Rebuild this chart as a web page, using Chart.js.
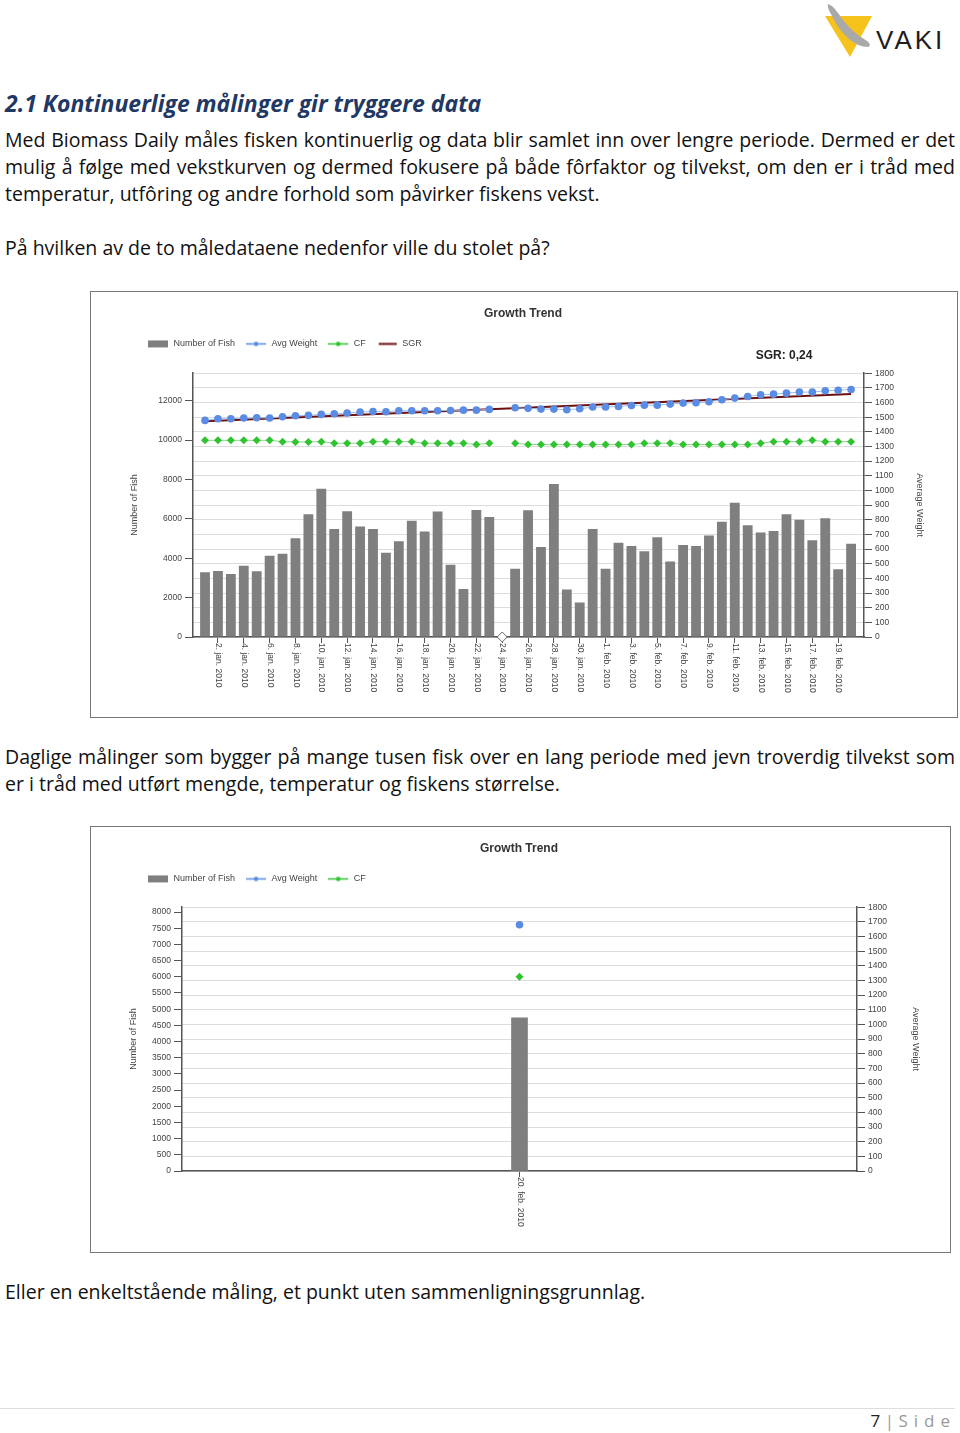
<!DOCTYPE html>
<html lang="no">
<head>
<meta charset="utf-8">
<title>Growth Trend</title>
<script src="https://cdn.jsdelivr.net/npm/chart.js@4.4.1/dist/chart.umd.min.js"></script>
<style>
  html, body { margin: 0; padding: 0; background: #fff; }
  body { width: 960px; height: 1433px; position: relative; overflow: hidden; font-family: 'Open Sans', Lato, sans-serif; color: #111; }
  .ln { position: absolute; left: 5px; white-space: nowrap; font-size: 19.5px; line-height: 27px; height: 27px; }
  .just { width: 950px; text-align: justify; text-align-last: justify; }
  .head { font-size: 23px; font-weight: bold; font-style: italic; color: #1f3864; }
  .frame { position: absolute; left: 90px; border: 1px solid #777; background: #fff; }
  .frame canvas { display: block; }
  #footer-line { position: absolute; left: 0; top: 1408px; width: 955px; border-top: 1px solid #dedede; }
  #page-no { position: absolute; right: 4px; top: 1409px; font-size: 17px; line-height: 24px; color: #999; }
  #page-no b { color: #222; font-weight: normal; }
  #page-no span { letter-spacing: 6px; }
</style>
</head>
<body>

<svg style="position:absolute;left:815px;top:0" width="140" height="64">
  <polygon points="10,16 57,16 35,57" fill="#f6c21c"/>
  <path d="M13,4 C19,6 23,13 28,20 C34,28 42,35 52,41 C55,43 56,46 53,47 C47,47 40,44 34,39 C27,33 22,26 18,18 C15,12 12,8 13,4 Z" fill="#a9a9a9"/>
  <text x="61" y="49" font-family="'Liberation Sans', Arial, sans-serif" font-size="26" letter-spacing="3" fill="#1d1d1d">VAKI</text>
</svg>

<div class="ln head" style="top:90px">2.1 Kontinuerlige målinger gir tryggere data</div>
<div class="ln just" style="top:126px">Med Biomass Daily måles fisken kontinuerlig og data blir samlet inn over lengre periode. Dermed er det</div>
<div class="ln just" style="top:153px">mulig å følge med vekstkurven og dermed fokusere på både fôrfaktor og tilvekst, om den er i tråd med</div>
<div class="ln" style="top:180px">temperatur, utfôring og andre forhold som påvirker fiskens vekst.</div>
<div class="ln" style="top:234px">På hvilken av de to måledataene nedenfor ville du stolet på?</div>

<div class="frame" style="top:291px"><canvas id="chart1" width="866" height="425"></canvas></div>

<div class="ln just" style="top:743px">Daglige målinger som bygger på mange tusen fisk over en lang periode med jevn troverdig tilvekst som</div>
<div class="ln" style="top:770px">er i tråd med utført mengde, temperatur og fiskens størrelse.</div>

<div class="frame" style="top:826px"><canvas id="chart2" width="859" height="425"></canvas></div>

<div class="ln" style="top:1278px">Eller en enkeltstående måling, et punkt uten sammenligningsgrunnlag.</div>

<div id="footer-line"></div>
<div id="page-no"><b>7</b> | <span>Side</span></div>

<script>
// ========================
// DATA
// ========================
const dates1 = [
  '1. jan. 2010', '2. jan. 2010', '3. jan. 2010', '4. jan. 2010', '5. jan. 2010',
  '6. jan. 2010', '7. jan. 2010', '8. jan. 2010', '9. jan. 2010', '10. jan. 2010',
  '11. jan. 2010', '12. jan. 2010', '13. jan. 2010', '14. jan. 2010', '15. jan. 2010',
  '16. jan. 2010', '17. jan. 2010', '18. jan. 2010', '19. jan. 2010', '20. jan. 2010',
  '21. jan. 2010', '22. jan. 2010', '23. jan. 2010', '24. jan. 2010', '25. jan. 2010',
  '26. jan. 2010', '27. jan. 2010', '28. jan. 2010', '29. jan. 2010', '30. jan. 2010',
  '31. jan. 2010', '1. feb. 2010', '2. feb. 2010', '3. feb. 2010', '4. feb. 2010',
  '5. feb. 2010', '6. feb. 2010', '7. feb. 2010', '8. feb. 2010', '9. feb. 2010',
  '10. feb. 2010', '11. feb. 2010', '12. feb. 2010', '13. feb. 2010', '14. feb. 2010',
  '15. feb. 2010', '16. feb. 2010', '17. feb. 2010', '18. feb. 2010', '19. feb. 2010',
  '20. feb. 2010'
];
// every second day gets a tick label
const tickIdx1 = [1, 3, 5, 7, 9, 11, 13, 15, 17, 19, 21, 23, 25, 27, 29, 31, 33, 35, 37, 39, 41, 43, 45, 47, 49];
const fishTicks1 = [0, 2000, 4000, 6000, 8000, 10000, 12000];

const fish1 = [
  3290, 3350, 3200, 3620, 3340, 4130, 4230, 5020, 6240, 7530,
  5490, 6390, 5610, 5490, 4280, 4870, 5900, 5360, 6370, 3670,
  2440, 6450, 6100, null, 3470, 6440, 4570, 7770, 2410, 1750,
  5490, 3470, 4790, 4620, 4360, 5070, 3830, 4670, 4620, 5160,
  5850, 6820, 5680, 5310, 5390, 6240, 5950, 4920, 6030, 3440, 4740
];
const weight1 = [
  1478, 1489, 1489, 1494, 1496, 1494, 1503, 1510, 1512, 1519,
  1523, 1528, 1535, 1539, 1537, 1544, 1544, 1544, 1544, 1546,
  1548, 1548, 1553, null, 1564, 1560, 1555, 1555, 1551, 1557,
  1569, 1569, 1573, 1580, 1582, 1582, 1589, 1596, 1598, 1605,
  1619, 1630, 1641, 1653, 1657, 1664, 1671, 1671, 1680, 1684, 1689
];
const cf1 = [
  1342, 1342, 1342, 1342, 1342, 1342, 1333, 1331, 1331, 1333,
  1322, 1322, 1322, 1333, 1333, 1333, 1333, 1322, 1322, 1322,
  1322, 1313, 1322, null, 1322, 1313, 1313, 1313, 1313, 1313,
  1313, 1313, 1313, 1313, 1322, 1322, 1322, 1313, 1313, 1313,
  1313, 1313, 1313, 1322, 1333, 1333, 1333, 1342, 1333, 1333, 1333
];
// SGR trend line end points (index, value)
const sgrIdx1 = [0, 50];
const sgr1 = [1472, 1658];
const markerIdx1 = [23];
const markerVal1 = [0];
const sgrText1 = 'SGR: 0,24';

const dates2 = ['20. feb. 2010'];
const fishTicks2 = [0, 500, 1000, 1500, 2000, 2500, 3000, 3500, 4000, 4500, 5000, 5500, 6000, 6500, 7000, 7500, 8000];
const fish2 = [4730];
const weight2 = [1680];
const cf2 = [1325];

// ========================
// STYLE
// ========================
const FONT = "'Liberation Sans', Arial, sans-serif";
const AXIS = '#555';
const GRID = '#dcdcdc';
const TXT = '#444';
const C_BAR = '#7f7f7f';
const C_W = '#5b8ce3';
const C_WL = '#9fbcf0';
const C_CF = '#2fc42f';
const C_CFL = '#86d886';
const C_SGR = '#6e1010';

function legendIcon(kind, color) {
  const c = document.createElement('canvas');
  c.width = 21; c.height = 9;
  const g = c.getContext('2d');
  if (kind === 'bar') {
    g.fillStyle = color;
    g.fillRect(0, 1, 20, 7);
  } else {
    g.strokeStyle = color;
    g.lineWidth = kind === 'line' ? 2 : 1.5;
    g.beginPath();
    g.moveTo(kind === 'line' ? 2 : 0, 4.5);
    g.lineTo(20, 4.5);
    g.stroke();
    if (kind === 'dot') {
      g.fillStyle = color;
      g.beginPath();
      g.arc(10, 4.5, 2.3, 0, Math.PI * 2);
      g.fill();
    }
  }
  return c;
}

const icons = {
  'Number of Fish': legendIcon('bar', C_BAR),
  'Avg Weight': legendIcon('dot', C_W),
  'CF': legendIcon('dot', C_CF),
  'SGR': legendIcon('line', C_SGR)
};

const xy = (idx, vals) => vals.map((v, i) => ({ x: idx[i], y: v }));
const seq = (vals) => vals.map((v, i) => ({ x: i, y: v }));
const plain = v => String(v);

// rotated date labels, reading top to bottom
const dateLabels = {
  id: 'dateLabels',
  afterDraw(chart, args, opts) {
    const sx = chart.scales.x;
    const ctx = chart.ctx;
    ctx.save();
    ctx.font = `8.5px ${FONT}`;
    ctx.fillStyle = TXT;
    ctx.textAlign = 'left';
    ctx.textBaseline = 'middle';
    sx.ticks.forEach(t => {
      ctx.save();
      ctx.translate(sx.getPixelForValue(t.value) + 0.5, sx.top + 6);
      ctx.rotate(Math.PI / 2);
      ctx.fillText(opts.labels[t.value], 0, 0);
      ctx.restore();
    });
    ctx.restore();
  }
};

// extra layout box under the legend (space + SGR note)
const noteBox = {
  id: 'noteBox',
  beforeInit(chart) {
    const box = {
      position: 'top', weight: 500, fullSize: true, options: {},
      top: 0, left: 0, right: 0, bottom: 0, width: 0, height: 0,
      isHorizontal() { return true; },
      update(maxWidth) {
        this.width = maxWidth;
        this.height = chart.options.plugins.noteBox.height;
      },
      draw() {
        const text = chart.options.plugins.noteBox.text;
        if (!text) return;
        const ctx = chart.ctx;
        ctx.save();
        ctx.font = `bold 12px ${FONT}`;
        ctx.fillStyle = '#222';
        ctx.textAlign = 'center';
        ctx.textBaseline = 'middle';
        ctx.fillText(text, chart.chartArea.right - 80, this.bottom - 18);
        ctx.restore();
      }
    };
    Chart.layouts.addBox(chart, box);
  }
};

function baseOptions(o) {
  return {
    responsive: false,
    animation: false,
    layout: { padding: { left: 46, right: o.padRight, top: 0, bottom: 0 } },
    plugins: {
      tooltip: { enabled: false },
      title: {
        display: true, text: 'Growth Trend', color: '#333',
        font: { size: 12, weight: 'bold', family: FONT },
        padding: { top: 14, bottom: 8 }
      },
      legend: {
        position: 'top', align: 'start',
        labels: {
          usePointStyle: true, pointStyleWidth: 21, boxHeight: 9, padding: 11,
          font: { size: 9, family: FONT }, color: TXT,
          generateLabels: (chart) => chart.data.datasets
            .filter(d => icons[d.label])
            .map(d => ({ text: d.label, pointStyle: icons[d.label], lineWidth: 0, hidden: false, fontColor: TXT }))
        }
      },
      noteBox: { height: o.noteHeight, text: o.note },
      dateLabels: { labels: o.labels }
    },
    scales: {
      x: Object.assign({
        ticks: { display: false },
        grid: { drawOnChartArea: false, tickLength: 6, tickColor: AXIS, offset: false },
        border: { color: AXIS, width: 1.5 },
        afterFit: s => { s.height = o.xHeight; }
      }, o.x),
      y: {
        position: 'left', min: 0, max: o.leftMax,
        afterBuildTicks: s => { s.ticks = o.leftTicks.map(v => ({ value: v })); },
        ticks: { callback: plain, font: { size: 8.5, family: FONT }, color: TXT, padding: 3 },
        grid: { drawOnChartArea: false, tickLength: 8, tickColor: AXIS },
        border: { color: AXIS, width: 1.5 },
        title: { display: true, text: 'Number of Fish', font: { size: 9, family: FONT }, color: TXT, padding: { top: o.leftTitlePad } },
        afterFit: s => { s.width = o.leftWidth; }
      },
      y1: {
        position: 'right', min: 0, max: 1800,
        ticks: { stepSize: 100, callback: plain, font: { size: 8.5, family: FONT }, color: TXT, padding: 3 },
        grid: { color: GRID, tickLength: 8, tickColor: AXIS },
        border: { color: AXIS, width: 1.5 },
        title: { display: true, text: 'Average Weight', font: { size: 9, family: FONT }, color: TXT, padding: { top: o.rightTitlePad } },
        afterFit: s => { s.width = o.rightWidth; }
      }
    }
  };
}

// ========================
// CHART 1 - continuous
// ========================
new Chart(document.getElementById('chart1'), {
  type: 'bar',
  data: {
    datasets: [
      { label: 'Number of Fish', data: seq(fish1), backgroundColor: C_BAR, barPercentage: 0.76, categoryPercentage: 1, yAxisID: 'y', order: 10 },
      { type: 'line', label: 'Avg Weight', data: seq(weight1), yAxisID: 'y1', borderColor: C_WL, borderWidth: 1,
        pointRadius: 3.8, pointBackgroundColor: C_W, pointBorderWidth: 0, spanGaps: false, order: 1 },
      { type: 'line', label: 'CF', data: seq(cf1), yAxisID: 'y1', borderColor: C_CFL, borderWidth: 1,
        pointStyle: 'rectRot', pointRadius: 4, pointBackgroundColor: C_CF, pointBorderWidth: 0, spanGaps: false, order: 2 },
      { type: 'line', label: 'SGR', data: xy(sgrIdx1, sgr1), yAxisID: 'y1', borderColor: C_SGR, borderWidth: 2,
        pointRadius: 0, order: 3 },
      { type: 'line', label: 'marker', data: xy(markerIdx1, markerVal1), yAxisID: 'y', showLine: false,
        pointStyle: 'rectRot', pointRadius: 5, pointBackgroundColor: '#fff', pointBorderColor: '#666', pointBorderWidth: 1, clip: false, order: 0 }
    ]
  },
  options: baseOptions({
    padRight: 48, leftWidth: 56, rightWidth: 45, xHeight: 80, noteHeight: 14.8,
    leftMax: 13400, leftTicks: fishTicks1, leftTitlePad: -7.4, rightTitlePad: -15.4,
    labels: dates1, note: sgrText1,
    x: { type: 'linear', offset: false, min: -0.93, max: 51, afterBuildTicks: s => { s.ticks = tickIdx1.map(v => ({ value: v })); } }
  }),
  plugins: [noteBox, dateLabels]
});

// ========================
// CHART 2 - single reading
// ========================
new Chart(document.getElementById('chart2'), {
  type: 'bar',
  data: {
    labels: dates2,
    datasets: [
      { label: 'Number of Fish', data: fish2, backgroundColor: C_BAR, barThickness: 16, yAxisID: 'y', order: 10 },
      { type: 'line', label: 'Avg Weight', data: weight2, yAxisID: 'y1', borderColor: C_WL, borderWidth: 1,
        pointRadius: 3.8, pointBackgroundColor: C_W, pointBorderWidth: 0, order: 1 },
      { type: 'line', label: 'CF', data: cf2, yAxisID: 'y1', borderColor: C_CFL, borderWidth: 1,
        pointStyle: 'rectRot', pointRadius: 4, pointBackgroundColor: C_CF, pointBorderWidth: 0, order: 2 }
    ]
  },
  options: baseOptions({
    padRight: 49, leftWidth: 45, rightWidth: 44, xHeight: 81, noteHeight: 13.8,
    leftMax: 8150, leftTicks: fishTicks2, leftTitlePad: -8.4, rightTitlePad: -19.4,
    labels: dates2, note: null,
    x: { type: 'category', offset: true }
  }),
  plugins: [noteBox, dateLabels]
});
</script>
</body>
</html>
